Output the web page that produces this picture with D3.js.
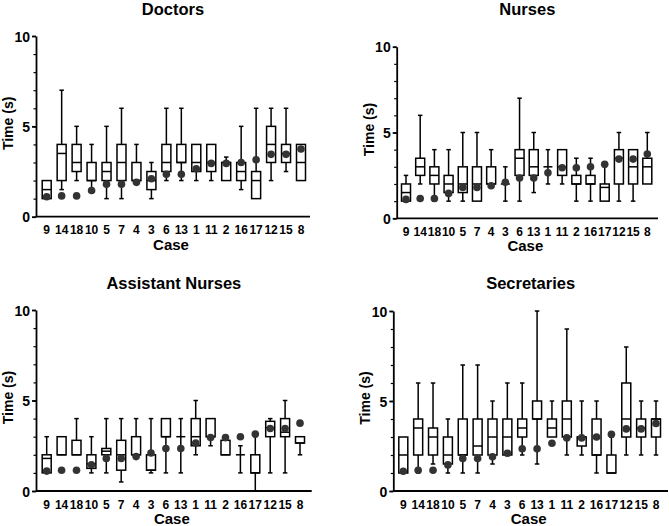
<!DOCTYPE html>
<html>
<head>
<meta charset="utf-8">
<script src="https://cdn.jsdelivr.net/npm/d3@7"></script>
<style>
  body { margin: 0; background: #fff; }
  svg text { font-family: "Liberation Sans", Arial, sans-serif; font-weight: bold; fill: #000; }
</style>
</head>
<body>
<svg id="chart" width="669" height="526"></svg>
<script>
// case order on the x axis
const cases = ["9", "14", "18", "10", "5", "7", "4", "3", "6", "13", "1", "11", "2", "16", "17", "12", "15", "8"];

// reference time per case (the filled dots, same in every panel)
const refTimes = [1.1, 1.15, 1.15, 1.45, 1.8, 1.8, 1.9, 2.1, 2.35, 2.35, 2.65, 2.95, 2.95, 3.0, 3.15, 3.45, 3.45, 3.75];

// [min, q1, median, q3, max] per case
const doctors = [
  [1, 1, 1.5, 2, 2], [1.5, 2, 3.5, 4, 7], [2, 2.5, 3, 4, 5], [1.5, 2, 2, 3, 4],
  [1, 2, 2.5, 3, 5], [1, 2, 3, 4, 6], [2, 2, 2, 3, 4], [1, 1.5, 2, 2.5, 3],
  [2, 2.5, 3, 4, 6], [2, 3, 3, 4, 6], [2, 2.5, 3, 4, 4], [2, 2.5, 3, 4, 4],
  [2, 2, 3, 3, 3.3], [1.5, 2, 2.5, 3, 5], [1, 1, 2, 2.5, 6], [2, 3, 4, 5, 6],
  [2.5, 3, 3.5, 4, 6], [2, 2, 3, 4, 4]
];
const nurses = [
  [1, 1, 1.5, 2, 2.5], [2, 2.5, 3, 3.5, 6], [1, 2, 2.5, 3, 4], [1, 1.5, 2, 2.5, 4],
  [1, 1.5, 2, 3, 5], [1, 1, 2, 3, 5], [2, 2, 2, 3, 4], [1, 2, 2, 2, 3],
  [1, 2.5, 3.5, 4, 7], [1.5, 2.5, 3, 4, 5], [2, 3, 3, 3, 4], [2, 2.5, 3, 4, 4],
  [1, 2, 2, 2.5, 3.5], [1, 2, 2, 2.5, 3.5], [1, 1, 1.8, 2, 3], [1, 2, 3.5, 4, 5],
  [1, 2, 3, 4, 4], [2, 2, 3, 3.5, 5]
];
const assistantNurses = [
  [1, 1, 1.8, 2, 3], [2, 2, 2, 3, 3], [2, 2, 2, 2.8, 4], [1, 1.25, 1.5, 2, 3],
  [1, 2, 2.2, 2.35, 4], [0.5, 1.15, 2, 2.8, 4], [2, 2, 2, 3, 4], [1, 1.15, 1.15, 2, 4],
  [1, 3, 3, 4, 4], [1, 3, 3, 3, 4], [2, 2.5, 3, 4, 5], [2.5, 3, 3, 4, 4],
  [2, 2, 2, 2.8, 2.8], [1, 2, 2, 2, 2.5], [0, 1, 1, 2, 3], [1, 3, 3.5, 3.85, 4],
  [1, 3, 3.25, 4, 5], [2, 2.65, 2.65, 3, 3]
];
const secretaries = [
  [1, 1, 2, 3, 3], [1, 2, 3.5, 4, 6], [1.5, 2, 3, 3.5, 6], [1, 1.5, 2, 3, 4],
  [1, 2, 2, 4, 7], [1, 2, 2.5, 4, 7], [1.5, 2, 3, 4, 5], [2, 2, 3, 4, 6],
  [2, 3, 3.5, 4, 6], [1.5, 4, 4, 5, 10], [3, 3, 3.5, 4, 5], [2, 3, 4, 5, 9],
  [2, 2.5, 3, 3, 5], [1, 2, 2, 4, 5], [1, 1, 1, 2, 3], [2, 3, 4, 6, 8],
  [2, 3, 3.5, 4, 5], [2, 3, 4, 4, 5]
];

const svg = d3.select("#chart");

// panel frames: x of y axis, y of 10 and 0, end of x axis, first/last case centre
const panels = [
  { title: "Doctors", data: doctors, left: 36, top: 36, bottom: 216.7, right: 310, first: 46.7, last: 301, titleY: 15 },
  { title: "Nurses", data: nurses, left: 396.7, top: 46.7, bottom: 218.3, right: 658, first: 406, last: 647.3, titleY: 14.5 },
  { title: "Assistant Nurses", data: assistantNurses, left: 36, top: 310, bottom: 491, right: 311.7, first: 46.7, last: 300, titleY: 289 },
  { title: "Secretaries", data: secretaries, left: 393.3, top: 311, bottom: 491, right: 668, first: 403.3, last: 656, titleY: 289 }
];

function drawPanel(p) {
  const g = svg.append("g");

  const x = d3.scalePoint().domain(cases).range([p.first, p.last]);
  const y = d3.scaleLinear().domain([0, 10]).range([p.bottom, p.top]);

  const boxW = 9;
  const capW = 4.5;

  // minor ticks every unit
  g.append("g")
    .attr("transform", `translate(${p.left},0)`)
    .call(d3.axisLeft(y).tickValues(d3.range(0, 11)).tickSize(2.5).tickFormat(""))
    .call(a => a.select(".domain").remove())
    .call(a => a.selectAll("line").attr("stroke", "#000").attr("stroke-width", 1.2));

  // major ticks + labels
  const yAxis = g.append("g")
    .attr("transform", `translate(${p.left},0)`)
    .call(d3.axisLeft(y).tickValues([0, 5, 10]).tickSize(4).tickSizeOuter(0).tickPadding(2));
  yAxis.select(".domain").attr("stroke", "#000").attr("stroke-width", 1.8);
  yAxis.selectAll("line").attr("stroke", "#000").attr("stroke-width", 1.8);
  yAxis.selectAll("text").style("font-size", "14px").attr("dy", "0.36em");

  // x axis line with case labels
  g.append("line")
    .attr("x1", p.left).attr("x2", p.right)
    .attr("y1", y(0)).attr("y2", y(0))
    .attr("stroke", "#000").attr("stroke-width", 1.8);

  g.selectAll(".xlab")
    .data(cases)
    .join("text")
    .attr("x", d => x(d))
    .attr("y", y(0) + 17.5)
    .attr("text-anchor", "middle")
    .style("font-size", "12px")
    .text(d => d);

  const boxes = g.selectAll(".box")
    .data(p.data.map((v, i) => ({ c: cases[i], v: v })))
    .join("g");

  // whiskers
  boxes.append("line")
    .attr("x1", d => x(d.c)).attr("x2", d => x(d.c))
    .attr("y1", d => y(d.v[3])).attr("y2", d => y(d.v[4]))
    .attr("stroke", "#000").attr("stroke-width", 1.5);
  boxes.append("line")
    .attr("x1", d => x(d.c)).attr("x2", d => x(d.c))
    .attr("y1", d => y(d.v[1])).attr("y2", d => y(d.v[0]))
    .attr("stroke", "#000").attr("stroke-width", 1.5);
  // caps
  boxes.filter(d => d.v[4] > d.v[3]).append("line")
    .attr("x1", d => x(d.c) - capW / 2).attr("x2", d => x(d.c) + capW / 2)
    .attr("y1", d => y(d.v[4])).attr("y2", d => y(d.v[4]))
    .attr("stroke", "#000").attr("stroke-width", 1.5);
  boxes.filter(d => d.v[0] < d.v[1]).append("line")
    .attr("x1", d => x(d.c) - capW / 2).attr("x2", d => x(d.c) + capW / 2)
    .attr("y1", d => y(d.v[0])).attr("y2", d => y(d.v[0]))
    .attr("stroke", "#000").attr("stroke-width", 1.5);

  // box
  boxes.append("rect")
    .attr("x", d => x(d.c) - boxW / 2)
    .attr("width", boxW)
    .attr("y", d => y(d.v[3]))
    .attr("height", d => y(d.v[1]) - y(d.v[3]))
    .attr("fill", "#fff")
    .attr("stroke", "#000").attr("stroke-width", 1.5);
  // median
  boxes.append("line")
    .attr("x1", d => x(d.c) - boxW / 2).attr("x2", d => x(d.c) + boxW / 2)
    .attr("y1", d => y(d.v[2])).attr("y2", d => y(d.v[2]))
    .attr("stroke", "#000").attr("stroke-width", 1.5);

  // reference dots
  g.selectAll(".dot")
    .data(refTimes)
    .join("circle")
    .attr("cx", (d, i) => x(cases[i]))
    .attr("cy", d => y(d))
    .attr("r", 3.8)
    .attr("fill", "#333");

  const mid = (p.left + p.right) / 2;

  g.append("text")
    .attr("x", mid).attr("y", p.titleY)
    .attr("text-anchor", "middle")
    .style("font-size", "16.5px")
    .text(p.title);

  g.append("text")
    .attr("x", mid - 2).attr("y", y(0) + 33)
    .attr("text-anchor", "middle")
    .style("font-size", "15px")
    .text("Case");

  g.append("text")
    .attr("transform", `translate(${p.left - 23},${(p.top + p.bottom) / 2 - 3}) rotate(-90)`)
    .attr("text-anchor", "middle")
    .style("font-size", "14px")
    .text("Time (s)");
}

panels.forEach(drawPanel);
</script>
</body>
</html>
